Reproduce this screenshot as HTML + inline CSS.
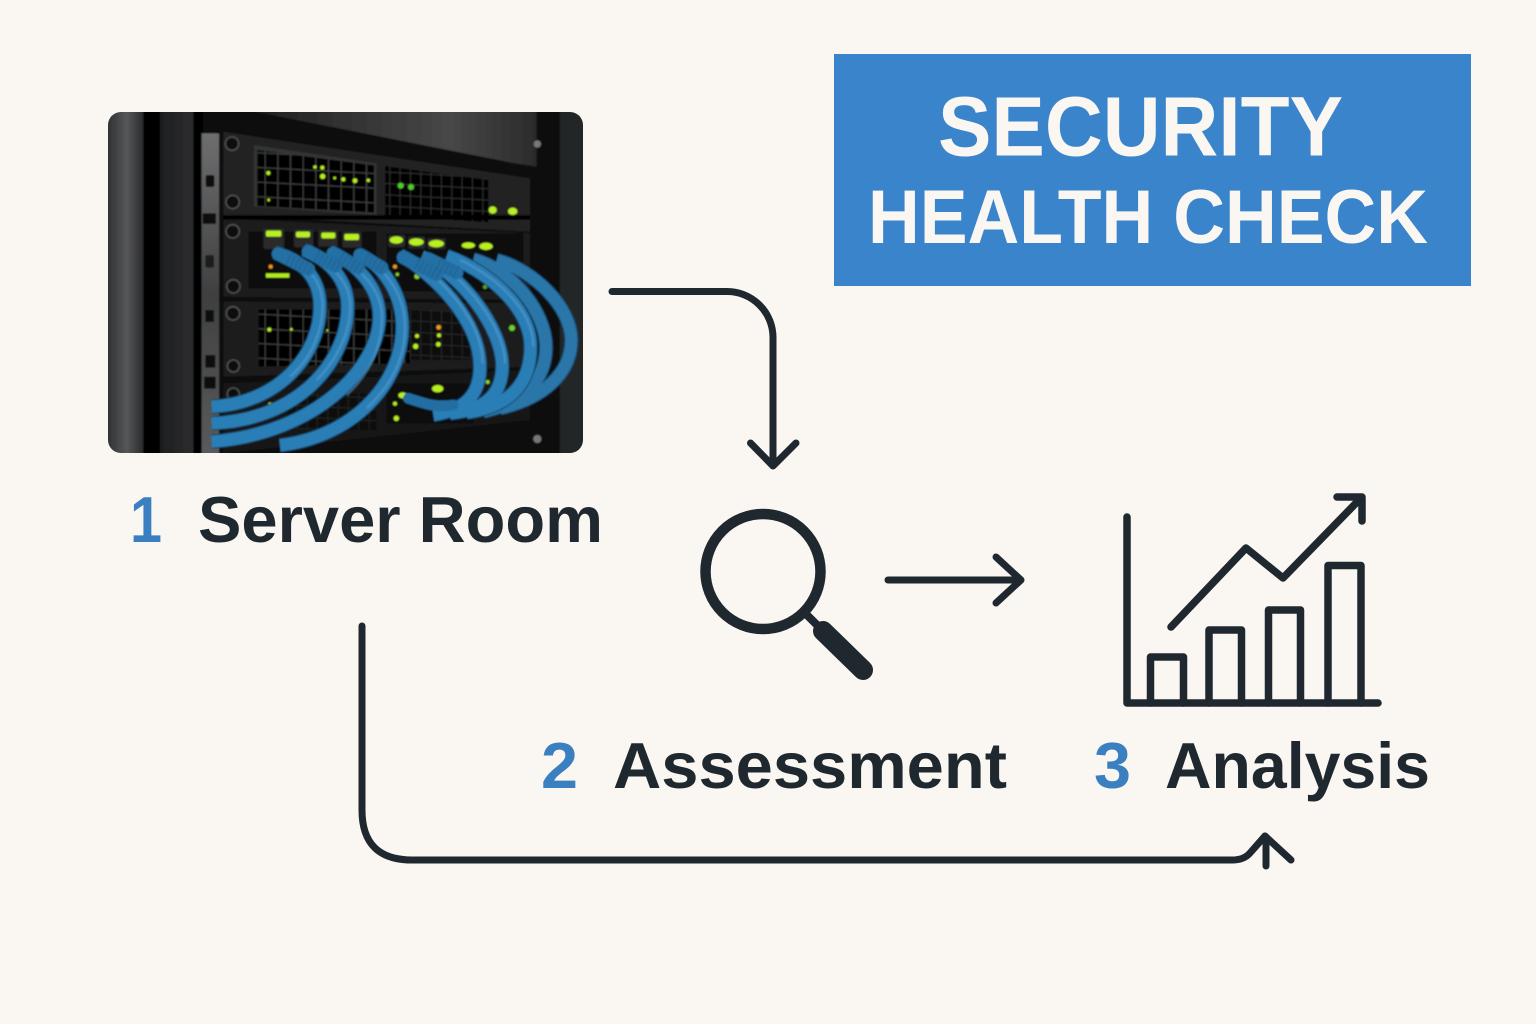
<!DOCTYPE html>
<html lang="en">
<head>
<meta charset="utf-8">
<title>Security Health Check</title>
<style>
html,body{margin:0;padding:0;background:#faf7f2}
svg{display:block}
text{font-family:"Liberation Sans",sans-serif}
</style>
</head>
<body>
<svg xmlns="http://www.w3.org/2000/svg" width="1536" height="1024" viewBox="0 0 1536 1024">
<defs>
  <clipPath id="photoClip"><rect x="108" y="112" width="475" height="341" rx="13"/></clipPath>
  <linearGradient id="postL" x1="0" x2="1" y1="0" y2="0">
    <stop offset="0" stop-color="#2e2f30"/><stop offset=".55" stop-color="#565758"/><stop offset="1" stop-color="#2a2b2c"/>
  </linearGradient>
  <linearGradient id="postM" x1="0" x2="1" y1="0" y2="0">
    <stop offset="0" stop-color="#1d1e1f"/><stop offset="1" stop-color="#2c2d2e"/>
  </linearGradient>
  <linearGradient id="topBar" x1="0" x2="1" y1="0" y2="0">
    <stop offset="0" stop-color="#1e1e1e"/><stop offset=".7" stop-color="#474747"/><stop offset="1" stop-color="#2b2b2b"/>
  </linearGradient>
  <linearGradient id="rail" x1="0" x2="0" y1="0" y2="1">
    <stop offset="0" stop-color="#6d6e6f"/><stop offset=".5" stop-color="#3f4041"/><stop offset="1" stop-color="#5a5b5c"/>
  </linearGradient>
  <pattern id="grid1" width="38" height="44" patternUnits="userSpaceOnUse" patternTransform="skewY(3)">
    <rect width="38" height="44" fill="#050505"/>
    <path d="M0 0H38M0 0V44" stroke="#434543" stroke-width="6" fill="none"/>
  </pattern>
  <pattern id="grid2" width="31" height="34" patternUnits="userSpaceOnUse" patternTransform="skewY(3)">
    <rect width="31" height="34" fill="#060606"/>
    <path d="M0 0H31M0 0V34" stroke="#323432" stroke-width="5" fill="none"/>
  </pattern>
  <filter id="soft" x="-5%" y="-5%" width="110%" height="110%"><feGaussianBlur stdDeviation="2.2"/></filter>
</defs>

<rect width="1536" height="1024" fill="#faf7f2"/>

<!-- Photo -->
<g clip-path="url(#photoClip)">
<g transform="translate(100 100) scale(.33333)" filter="url(#soft)">
  <rect x="0" y="0" width="1500" height="1080" fill="#0c0c0c"/>
  <rect x="20" y="30" width="110" height="1040" fill="url(#postL)"/>
  <rect x="130" y="30" width="50" height="1040" fill="#060606"/>
  <rect x="180" y="30" width="100" height="1040" fill="url(#postM)"/>
  <rect x="280" y="30" width="30" height="1040" fill="#060606"/>
  <rect x="305" y="100" width="52" height="970" fill="url(#rail)"/>
  <g fill="#111">
    <rect x="317" y="225" width="26" height="36" rx="6"/><rect x="316" y="465" width="26" height="38" rx="6" fill="#1a1a1a"/>
    <rect x="316" y="630" width="26" height="36"/><rect x="316" y="765" width="30" height="38"/>
    <rect x="308" y="340" width="40" height="32"/><rect x="312" y="830" width="35" height="36"/>
  </g>
  <path d="M440 30H1310V200L860 130L440 60Z" fill="url(#topBar)"/>
  <path d="M310 30L440 30L1320 205V225L310 95Z" fill="#070707"/>
  <rect x="1380" y="30" width="70" height="1040" fill="#242526"/>
  <rect x="1335" y="30" width="45" height="1040" fill="#0a0a0a"/>
  <!-- chassis 1 -->
  <path d="M370 95L1290 235V395L370 345Z" fill="#222324"/>
  <path d="M462 135L830 190V345L462 320Z" fill="#333533"/>
  <path d="M472 150L822 196V338L472 318Z" fill="url(#grid1)"/>
  <path d="M855 198L1165 240V368L855 345Z" fill="url(#grid2)"/>
  <!-- chassis 2 -->
  <path d="M370 355L1290 400V600L370 590Z" fill="#1a1b1c"/>
  <rect x="370" y="345" width="920" height="14" fill="#050505"/>
  <path d="M445 395H830V565H445Z" fill="#070707"/>
  <path d="M860 400H1270V575H860Z" fill="#0a0a0a"/>
  <!-- chassis 3 -->
  <path d="M370 605L1290 610V800L370 830Z" fill="#1c1d1e"/>
  <path d="M476 628H930V790L476 800Z" fill="url(#grid1)"/>
  <path d="M930 630H1110V780H930Z" fill="url(#grid2)" opacity=".55"/>
  <!-- chassis 4 -->
  <path d="M370 850L1290 810V960L370 1060Z" fill="#161718"/>
  <path d="M560 880H830V990H560Z" fill="url(#grid2)" opacity=".6"/>
  <rect x="860" y="850" width="260" height="120" fill="#0a0a0a"/>
  <!-- screws -->
  <g fill="#0b0b0b" stroke="#555" stroke-width="4">
    <circle cx="396" cy="131" r="20"/><circle cx="398" cy="306" r="20"/>
    <circle cx="398" cy="394" r="20"/><circle cx="400" cy="559" r="20"/>
    <circle cx="399" cy="640" r="20"/><circle cx="400" cy="798" r="18"/>
    <circle cx="400" cy="882" r="18"/>
  </g>
  <g fill="#777"><circle cx="1312" cy="132" r="11"/><circle cx="1312" cy="1017" r="12"/></g>
  <!-- port tabs -->
  <g fill="#2b2c2c">
    <rect x="490" y="385" width="62" height="62" rx="6"/><rect x="582" y="388" width="58" height="54" rx="6"/>
    <rect x="655" y="390" width="58" height="50" rx="6"/><rect x="727" y="395" width="58" height="48" rx="6"/>
    <rect x="865" y="405" width="50" height="36" rx="6"/><rect x="925" y="410" width="50" height="36" rx="6"/>
    <rect x="982" y="415" width="55" height="32" rx="6"/>
  </g>
  <!-- green LEDs -->
  <g fill="#b8f020">
    <rect x="498" y="392" width="46" height="18" rx="5"/><rect x="588" y="395" width="42" height="17" rx="5"/>
    <rect x="664" y="398" width="42" height="17" rx="5"/><rect x="733" y="402" width="44" height="18" rx="5"/>
    <ellipse cx="889" cy="420" rx="20" ry="11"/><ellipse cx="949" cy="426" rx="22" ry="11"/>
    <ellipse cx="1009" cy="431" rx="23" ry="11"/><ellipse cx="1105" cy="436" rx="20" ry="9"/>
    <ellipse cx="1158" cy="439" rx="20" ry="11"/>
    <ellipse cx="1178" cy="330" rx="12" ry="11"/><ellipse cx="1238" cy="334" rx="14" ry="11"/>
    <ellipse cx="1013" cy="866" rx="17" ry="11"/><ellipse cx="908" cy="886" rx="13" ry="9"/>
    <rect x="505" y="908" width="42" height="20" rx="4"/>
    <circle cx="889" cy="955" r="8"/><circle cx="885" cy="911" r="6"/>
    <circle cx="1236" cy="684" r="9" fill="#6fcf2a"/><circle cx="947" cy="739" r="8"/>
    <circle cx="951" cy="708" r="6"/><circle cx="1017" cy="706" r="6"/><circle cx="1015" cy="733" r="7"/>
    <circle cx="902" cy="257" r="9" fill="#4fc92f"/><circle cx="933" cy="261" r="9" fill="#4fc92f"/>
    <circle cx="505" cy="219" r="6"/><circle cx="668" cy="229" r="8"/><circle cx="730" cy="238" r="6"/>
    <circle cx="765" cy="242" r="7"/><circle cx="805" cy="241" r="5"/><circle cx="645" cy="201" r="5"/>
    <circle cx="667" cy="203" r="6"/><circle cx="704" cy="234" r="4"/><circle cx="506" cy="300" r="4"/>
    <circle cx="508" cy="689" r="6"/><circle cx="574" cy="688" r="4"/><circle cx="682" cy="691" r="3"/>
    <circle cx="951" cy="529" r="8" fill="#8bd12a"/><circle cx="892" cy="523" r="5" fill="#8bd12a"/>
    <circle cx="1155" cy="561" r="6" fill="#5f9e26"/><circle cx="1163" cy="846" r="6" fill="#8bd12a"/>
    <rect x="498" y="520" width="70" height="13" fill="#b0ec20"/>
    <rect x="618" y="930" width="22" height="8"/>
  </g>
  <g fill="#f09a20"><circle cx="512" cy="500" r="6"/><circle cx="885" cy="500" r="6"/><circle cx="1016" cy="682" r="7"/></g>
  <!-- cables -->
  <g fill="none" stroke-linecap="butt">
    <g stroke="#174c72" stroke-width="42">
      <path d="M1190 480C1300 510 1414 620 1414 720C1414 820 1330 895 1200 925"/>
      <path d="M1120 478C1240 510 1338 640 1338 740C1338 850 1260 910 1150 935"/>
    </g>
    <g stroke="#2a76a9" stroke-width="36">
      <path d="M1190 480C1300 510 1414 620 1414 720C1414 820 1330 895 1200 925"/>
      <path d="M1120 478C1240 510 1338 640 1338 740C1338 850 1260 910 1150 935"/>
    </g>
    <g stroke="#123f5f" stroke-width="43">
      <path d="M1040 468C1160 510 1292 620 1292 740C1292 860 1220 920 1100 938"/>
      <path d="M965 470C1080 520 1207 680 1207 800C1205 890 1150 930 1050 940"/>
      <path d="M900 465C1000 520 1140 660 1140 800C1140 890 1090 930 1000 945"/>
      <path d="M775 462C850 495 907 580 907 680C907 850 760 1010 540 1036"/>
      <path d="M690 455C770 490 838 560 838 650C838 800 650 1000 335 1025"/>
      <path d="M612 450C690 480 743 540 743 620C743 780 600 960 335 970"/>
      <path d="M525 458C605 480 660 530 660 620C660 760 540 910 335 920"/>
    </g>
    <g stroke="#2c7eb6" stroke-width="37">
      <path d="M1040 468C1160 510 1292 620 1292 740C1292 860 1220 920 1100 938"/>
      <path d="M965 470C1080 520 1207 680 1207 800C1205 890 1150 930 1050 940"/>
      <path d="M900 465C1000 520 1140 660 1140 800C1140 890 1090 930 1000 945"/>
      <path d="M775 462C850 495 907 580 907 680C907 850 760 1010 540 1036"/>
      <path d="M690 455C770 490 838 560 838 650C838 800 650 1000 335 1025"/>
      <path d="M612 450C690 480 743 540 743 620C743 780 600 960 335 970"/>
      <path d="M525 458C605 480 660 530 660 620C660 760 540 910 335 920"/>
    </g>
    <g stroke="#5ba3d1" stroke-width="7" opacity=".5">
      <path d="M1080 480C1170 520 1300 620 1300 740"/>
      <path d="M1000 482C1090 530 1215 680 1215 790"/>
      <path d="M930 475C1020 530 1148 660 1148 790"/>
      <path d="M800 480C860 510 915 590 915 680C915 770 880 850 800 925"/>
      <path d="M715 470C780 505 846 570 846 650C846 740 810 820 740 885"/>
      <path d="M640 470C700 495 751 550 751 620C750 700 710 780 650 840"/>
      <path d="M560 475C620 495 668 540 668 620C666 700 630 780 570 830"/>
    </g>
    <g stroke="#2470a4" stroke-width="40" stroke-linecap="round">
      <path d="M535 462L625 507"/><path d="M625 455L707 498"/><path d="M700 460L775 503"/>
      <path d="M780 465L845 503"/><path d="M910 472L1010 523"/><path d="M985 477L1070 518"/>
    </g>
    <g stroke="#1a5a87" stroke-width="38" stroke-dasharray="3 11" opacity=".75">
      <path d="M565 477L635 512"/><path d="M650 468L715 502"/><path d="M722 472L785 508"/>
      <path d="M798 476L852 507"/><path d="M950 492L1018 527"/><path d="M1015 492L1078 522"/>
    </g>
    <path d="M925 895C960 905 1000 925 1060 915" stroke="#236ea3" stroke-width="32" stroke-linecap="round"/>
  </g>
</g>
</g>

<!-- Title box -->
<rect x="834" y="54" width="637" height="232" fill="#3a84cb"/>
<text x="938" y="155.500" font-size="84" font-weight="700" fill="#faf7f2" textLength="405" lengthAdjust="spacingAndGlyphs">SECURITY</text>
<text x="868" y="243" font-size="76" font-weight="700" fill="#faf7f2" textLength="560" lengthAdjust="spacingAndGlyphs">HEALTH CHECK</text>

<!-- Connectors -->
<g fill="none" stroke="#1f282f" stroke-width="7" stroke-linecap="round" stroke-linejoin="round">
  <path d="M612 291.500H727A46 46 0 0 1 773 337.500V465"/>
  <path d="M750.500 443L773 466L796 443"/>
  <path d="M888 580H1020"/>
  <path d="M996 557L1021 580L996 603"/>
  <path d="M362 626V810Q362 860 412 860H1232Q1244 860 1250 853L1265 836"/>
  <path d="M1265 836L1291 860"/>
  <path d="M1266 838V866"/>
</g>

<!-- Magnifier -->
<g fill="none" stroke="#1f282f" stroke-linecap="round">
  <circle cx="763" cy="571.500" r="57.500" stroke-width="10.500"/>
  <path d="M807 615L822 630" stroke-width="8"/>
  <path d="M823 631L863 670" stroke-width="20"/>
</g>

<!-- Chart -->
<g fill="none" stroke="#1f282f" stroke-width="7.500" stroke-linecap="round" stroke-linejoin="round">
  <path d="M1127 517V703H1378"/>
  <path d="M1150.500 703V657H1183.500V703"/>
  <path d="M1209 703V630H1241.500V703"/>
  <path d="M1268.500 703V610H1300.500V703"/>
  <path d="M1328 703V565.500H1361V703"/>
  <path d="M1171 627L1246 548L1283 578L1360 499"/>
  <path d="M1337 497H1362V521"/>
</g>

<!-- Labels -->
<g font-weight="700" font-size="65">
  <text x="130" y="542" fill="#3a7fc0" textLength="32" lengthAdjust="spacingAndGlyphs">1</text>
  <text x="198" y="542" fill="#1f282f" textLength="405" lengthAdjust="spacingAndGlyphs">Server Room</text>
  <text x="541" y="788" fill="#3a7fc0" textLength="37" lengthAdjust="spacingAndGlyphs">2</text>
  <text x="613" y="788" fill="#1f282f" textLength="394" lengthAdjust="spacingAndGlyphs">Assessment</text>
  <text x="1094" y="788" fill="#3a7fc0" textLength="37" lengthAdjust="spacingAndGlyphs">3</text>
  <text x="1165" y="788" fill="#1f282f" textLength="265" lengthAdjust="spacingAndGlyphs">Analysis</text>
</g>
</svg>
</body>
</html>
